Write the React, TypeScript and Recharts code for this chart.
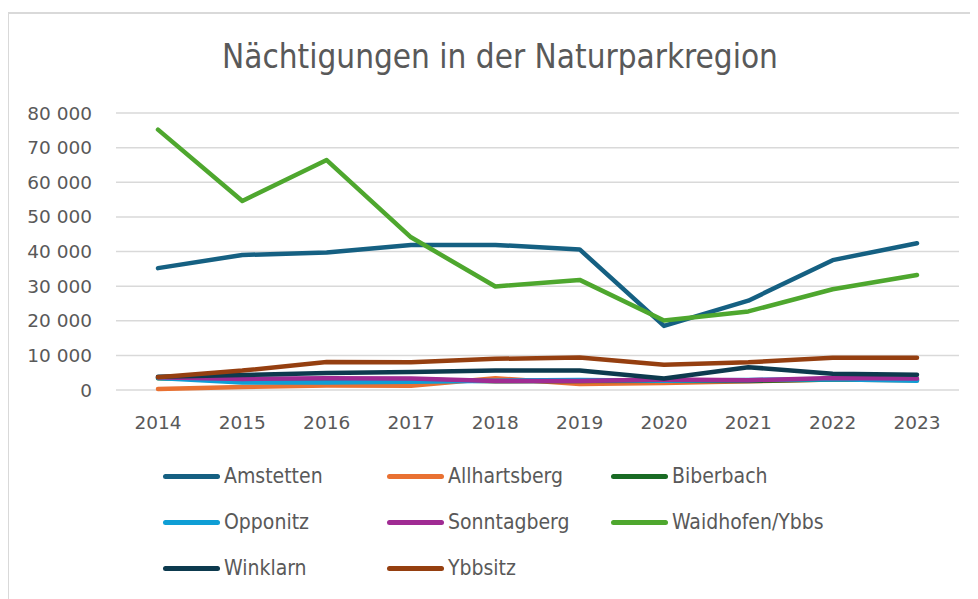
import { LineChart, Line, XAxis, YAxis, CartesianGrid, Legend } from "recharts";

const years = ["2014", "2015", "2016", "2017", "2018", "2019", "2020", "2021", "2022", "2023"];

const amstetten = [35200, 39000, 39700, 41900, 41900, 40600, 18500, 25800, 37500, 42400];
const allhartsberg = [300, 900, 1300, 1200, 3400, 1700, 2000, 2500, 3000, 2800];
const biberbach = [3400, 3000, 3100, 3000, 2500, 2600, 2700, 2600, 3000, 3000];
const opponitz = [3500, 2200, 2200, 2400, 2700, 2900, 2700, 2900, 3100, 2700];
const sonntagberg = [3700, 3200, 3400, 3300, 2600, 2600, 3000, 2800, 3500, 3300];
const waidhofen = [75200, 54600, 66400, 44100, 29900, 31800, 20100, 22700, 29100, 33200];
const winklarn = [3800, 4300, 4900, 5200, 5600, 5600, 3300, 6600, 4700, 4400];
const ybbsitz = [3700, 5600, 8100, 8000, 9000, 9400, 7300, 8000, 9300, 9300];

const yTicks = [0, 10000, 20000, 30000, 40000, 50000, 60000, 70000, 80000];

const series = [
  { name: "Amstetten", values: amstetten, color: "#156082" },
  { name: "Allhartsberg", values: allhartsberg, color: "#E97132" },
  { name: "Biberbach", values: biberbach, color: "#196B24" },
  { name: "Opponitz", values: opponitz, color: "#0F9ED5" },
  { name: "Sonntagberg", values: sonntagberg, color: "#A02B93" },
  { name: "Waidhofen/Ybbs", values: waidhofen, color: "#4EA72E" },
  { name: "Winklarn", values: winklarn, color: "#0D3A4E" },
  { name: "Ybbsitz", values: ybbsitz, color: "#953F10" },
];

const data = years.map((year, i) => {
  const row: Record<string, string | number> = { year };
  series.forEach((s) => {
    row[s.name] = s.values[i];
  });
  return row;
});

const formatThousands = (v: number) => String(v).replace(/\B(?=(\d{3})+(?!\d))/g, " ");

const narrow = "'Liberation Sans Narrow', 'DejaVu Sans Condensed', sans-serif";
const tickStyle = { fill: "#595959", fontSize: 18.5, fontFamily: "'DejaVu Sans', sans-serif" };

// keep the legend in series order (recharts sorts it by name otherwise)
const renderLegend = (props: any) => {
  const { payload } = props;
  const items = [...payload].sort(
    (a: any, b: any) =>
      series.findIndex((s) => s.name === a.value) - series.findIndex((s) => s.name === b.value)
  );
  return (
    <div
      style={{
        display: "grid",
        gridTemplateColumns: "224px 224px 224px",
        fontFamily: narrow,
        fontSize: 21,
        color: "#595959",
      }}
    >
      {items.map((p: any) => (
        <div key={p.value} style={{ display: "flex", alignItems: "center", height: 46 }}>
          <span
            style={{
              display: "inline-block",
              width: 57,
              height: 5,
              borderRadius: 3,
              background: p.color,
              marginRight: 4,
            }}
          />
          <span>{p.value}</span>
        </div>
      ))}
    </div>
  );
};

export default function App() {
  return (
    <div style={{ position: "relative", width: 970, height: 591 }}>
      <div
        style={{
          position: "absolute",
          left: -1,
          top: 4,
          width: 990,
          height: 620,
          border: "2px solid #d9d9d9",
          boxSizing: "border-box",
        }}
      />
      <div
        style={{
          position: "absolute",
          left: 0,
          top: 29,
          width: 984,
          textAlign: "center",
          fontFamily: narrow,
          fontSize: 33,
          color: "#595959",
        }}
      >
        Nächtigungen in der Naturparkregion
      </div>
      <LineChart
        width={970}
        height={591}
        data={data}
        margin={{ top: 105, right: 19, bottom: 179, left: 0 }}
      >
        <CartesianGrid vertical={false} stroke="#d9d9d9" strokeWidth={1.5} />
        <XAxis
          dataKey="year"
          axisLine={false}
          tickLine={false}
          height={30}
          padding={{ left: 42, right: 42 }}
          tickMargin={20}
          tick={tickStyle}
        />
        <YAxis
          width={108}
          domain={[0, 80000]}
          ticks={yTicks}
          axisLine={false}
          tickLine={false}
          tickMargin={18}
          tickFormatter={formatThousands}
          tick={tickStyle}
        />
        <Legend
          content={renderLegend}
          layout="horizontal"
          verticalAlign="middle"
          align="center"
          wrapperStyle={{ top: 445, left: 155, width: 700 }}
        />
        {series.map((s) => (
          <Line
            key={s.name}
            type="linear"
            dataKey={s.name}
            stroke={s.color}
            strokeWidth={4.5}
            strokeLinecap="round"
            strokeLinejoin="round"
            dot={false}
            activeDot={false}
            isAnimationActive={false}
          />
        ))}
      </LineChart>
    </div>
  );
}
